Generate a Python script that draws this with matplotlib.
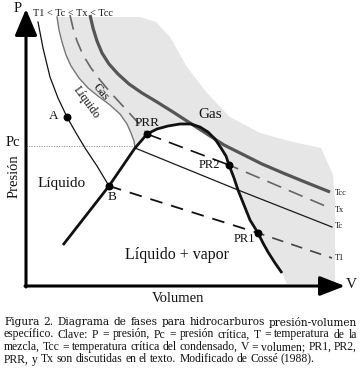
import matplotlib
matplotlib.use("Agg")
import matplotlib.pyplot as plt
import numpy as np

# ---------------- data (schematic coordinates: V to the right, P upward on image grid) ----------------
# Phase envelope (bubble + dew curve), thick black
env_x = [63, 109, 135, 142, 147, 157, 168, 180, 191, 200, 208, 215, 221, 226, 229, 234, 238, 244, 250, 258, 263, 268, 275, 282]
env_y = [245, 186, 148, 140, 134, 129, 126, 124, 124, 127, 132, 139, 148, 156, 165, 178, 190, 205, 220, 233, 243, 252, 263, 273]

# T1 isotherm (liquid branch, then two-phase dashed, then gas dashed)
t1_x = [38, 43, 50, 58, 67, 76, 85, 97, 109]
t1_y = [22, 48, 77, 98, 117, 133, 148, 166, 186]
t1_mid_x = [109, 258]
t1_mid_y = [186, 233]
t1_end_x = [258, 332]
t1_end_y = [233, 258]

# Tc isotherm (upper gray curve to critical point, then straight line)
tc_x = [57, 59, 62, 66, 71, 79, 88, 98, 110, 120, 127, 131, 134, 135]
tc_y = [17, 30, 42, 55, 66, 78, 88, 96, 105, 114, 124, 133, 141, 148]
tc_low_x = [135, 238, 332]
tc_low_y = [148, 190, 227]

# Tx isotherm
tx_x = [70, 73, 77, 83, 91, 100, 110, 121, 132, 141, 147]
tx_y = [15, 28, 41, 55, 68, 80, 92, 104, 116, 126, 134]
tx_mid_x = [147, 229]
tx_mid_y = [134, 165]
tx_end_x = [229, 330]
tx_end_y = [165, 208]

# Tcc isotherm (thick gray)
tcc_x = [90, 93, 97, 102, 109, 118, 129, 142, 157, 173, 190, 207, 224, 242, 262, 283, 305, 330]
tcc_y = [15, 28, 41, 53, 64, 74, 84, 93, 102, 112, 123, 134, 145, 154, 164, 173, 182, 192]

# Outer boundary of the gray (gas) zone
gas_edge_x = [287, 335, 335, 333, 321, 293, 260, 230, 207, 187, 170, 156, 140]
gas_edge_y = [284, 284, 200, 175, 148, 142, 133, 117, 93, 67, 37, 22, 17]

# Named points
pt_names = ["A", "B", "PRR", "PR2", "PR1"]
pt_x = [67, 109, 147, 229, 258]
pt_y = [117, 186, 134, 165, 233]

iso_labels = ["Tcc", "Tx", "Tc", "T1"]
iso_label_y = [193, 210, 226, 258]

pc_level = 146

caption = [
    "Figura 2. Diagrama de fases para hidrocarburos presión-volumen",
    "específico. Clave: P = presión, Pc = presión crítica, T = temperatura de la",
    "mezcla, Tcc = temperatura crítica del condensado, V = volumen; PR1, PR2,",
    "PRR, y Tx son discutidas en el texto. Modificado de Cossé (1988).",
]

# ---------------- figure ----------------
SERIF = ["Liberation Serif", "DejaVu Serif"]
WIDE_SERIF = ["DejaVu Serif"]
fig = plt.figure(figsize=(3.61, 3.75), dpi=100)
ax = fig.add_axes([0, 0, 1, 1])
ax.set_xlim(0, 361)
ax.set_ylim(375, 0)
ax.axis("off")

GRAY_FILL = "#e6e6e6"

# gray gas region polygon
poly_x = list(tc_x) + list(env_x[2:]) + gas_edge_x + [tc_x[0]]
poly_y = list(tc_y) + list(env_y[2:]) + gas_edge_y + [tc_y[0]]
ax.fill(poly_x, poly_y, color=GRAY_FILL, lw=0, zorder=1)

# Pc dotted reference
ax.plot([26, 135], [pc_level, pc_level], color="#8a8a8a", lw=0.6, ls=(0, (1.5, 1.5)), zorder=2)

# Tcc
ax.plot(tcc_x, tcc_y, color="#555555", lw=2.3, solid_capstyle="butt", zorder=3)
# Tx
ax.plot(tx_x, tx_y, color="#666666", lw=1.2, ls=(0, (9, 5)), zorder=3)
ax.plot(tx_mid_x, tx_mid_y, color="#111111", lw=1.2, ls=(0, (9, 5)), zorder=3)
ax.plot(tx_end_x, tx_end_y, color="#666666", lw=1.2, ls=(3, (9, 5)), zorder=3)
# Tc
ax.plot(tc_x, tc_y, color="#777777", lw=1.0, zorder=3)
ax.plot(tc_low_x, tc_low_y, color="#1a1a1a", lw=0.9, zorder=3)
# T1
ax.plot(t1_x, t1_y, color="#111111", lw=0.9, zorder=3)
ax.plot(t1_mid_x, t1_mid_y, color="#111111", lw=1.3, ls=(0, (7, 5)), zorder=3)
ax.plot(t1_end_x, t1_end_y, color="#444444", lw=1.2, ls=(3, (7, 5)), zorder=3)

# Envelope
ax.plot(env_x, env_y, color="#111111", lw=2.0, solid_capstyle="butt", solid_joinstyle="round", zorder=4)

# points
ax.scatter(pt_x, pt_y, s=22, color="black", zorder=5)

# axes arrows
ax.annotate("", xy=(26, 9), xytext=(26, 287),
            arrowprops=dict(arrowstyle="-|>,head_length=0.9,head_width=0.38", lw=2.2,
                            color="black", shrinkA=0, shrinkB=0, mutation_scale=18), zorder=6)
ax.annotate("", xy=(345, 286), xytext=(25, 286),
            arrowprops=dict(arrowstyle="-|>,head_length=0.9,head_width=0.35", lw=2.2,
                            color="black", shrinkA=0, shrinkB=0, mutation_scale=17), zorder=6)

# text labels
def T(x, y, s, fs, **kw):
    kw.setdefault("ha", "center")
    kw.setdefault("va", "center")
    ax.text(x, y, s, fontsize=fs, family=SERIF, color="#111111", zorder=7, **kw)

T(17.5, 8, "P", 10.5)
T(33, 13.5, "T1 < Tc < Tx < Tcc", 7.4, ha="left")
T(13, 143, "Pc", 10.5)
T(14, 176, "Presión", 10.5, rotation=90)
T(54, 116, "A", 9.5)
T(112, 197, "B", 9.5)
T(62, 183, "Líquido", 11)
T(177, 255, "Líquido + vapor", 11.5)
T(210, 115, "Gas", 11)
T(86, 102, "Líquido", 8.5, rotation=-54, rotation_mode="anchor")
T(101, 92, "Gas", 8.5, rotation=-50, rotation_mode="anchor")
T(147, 123, "PRR", 9.5)
T(209, 165, "PR2", 9)
T(244, 239, "PR1", 9)
for lab, yy in zip(iso_labels, iso_label_y):
    T(335, yy, lab, 6, ha="left")
T(351, 284, "V", 11)
T(178, 298, "Volumen", 10.5)

# justified caption
renderer = fig.canvas.get_renderer()

def text_width(s, fs, fam):
    t = ax.text(0, 0, s, fontsize=fs, family=fam)
    wd = t.get_window_extent(renderer).width
    t.remove()
    return wd

x0, x1 = 4, 357
# font sizes: first line in a wider serif, others in Times-like serif
fs1 = 8.0 * 351 / text_width(caption[0], 8.0, WIDE_SERIF)
fs_rest = 8.0 * 342 / text_width(caption[3], 8.0, SERIF)
for ln in caption[1:3]:
    fs_rest = min(fs_rest, 8.0 * 350 / text_width(ln, 8.0, SERIF))

cap_y = [322, 334.5, 347, 359.5]
for i, (line, yy) in enumerate(zip(caption, cap_y)):
    fam = WIDE_SERIF if i == 0 else SERIF
    fs = fs1 if i == 0 else fs_rest
    words = line.split(" ")
    ws = [text_width(w, fs, fam) for w in words]
    if i == len(caption) - 1:
        gap = text_width("a b", fs, fam) - text_width("ab", fs, fam)
    else:
        gap = (x1 - x0 - sum(ws)) / (len(words) - 1)
    x = x0
    for w, wd in zip(words, ws):
        ax.text(x, yy, w, fontsize=fs, family=fam, ha="left", va="center", color="#111111")
        x += wd + gap

fig.savefig("out.png", dpi=100, facecolor="white")
